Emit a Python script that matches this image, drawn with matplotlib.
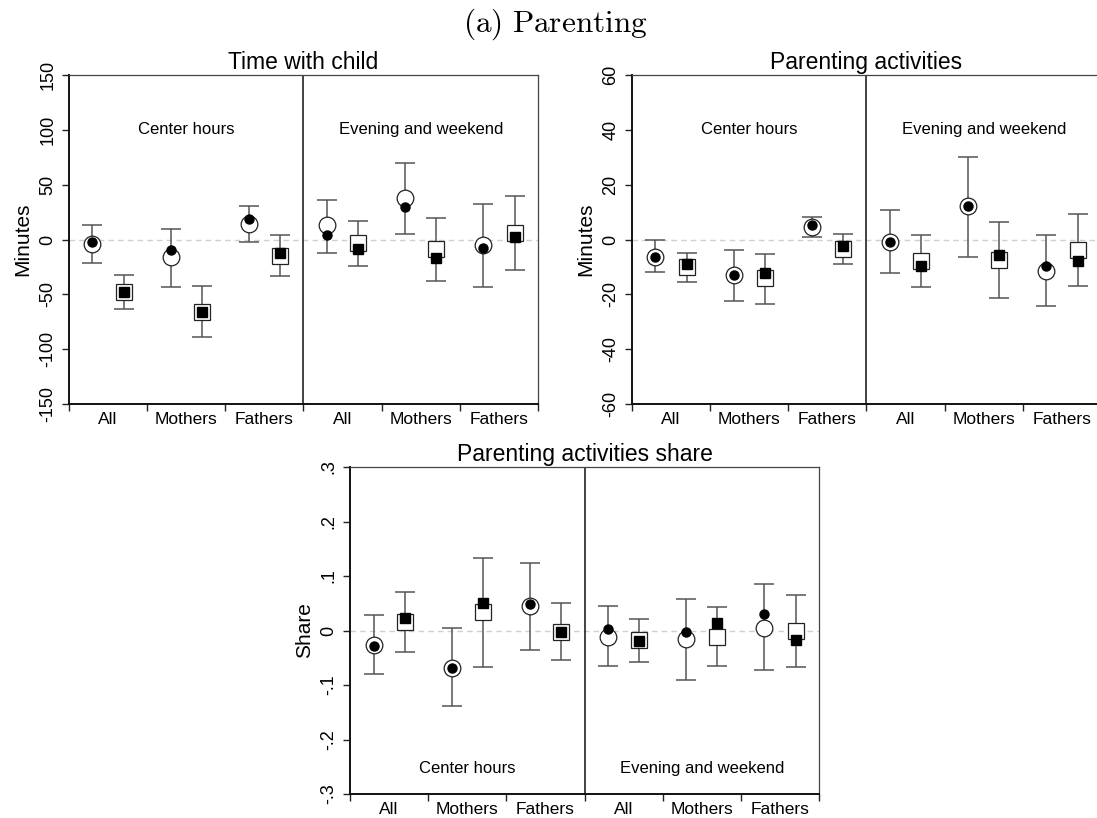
import matplotlib
matplotlib.use("Agg")

import matplotlib.pyplot as plt
import numpy as np

plt.rcParams['font.family'] = ['Liberation Sans', 'DejaVu Sans']
plt.rcParams['mathtext.fontset'] = 'cm'

groups = ["All", "Mothers", "Fathers", "All", "Mothers", "Fathers"]
sections = ["Center hours", "Evening and weekend"]

# Time with child (minutes)
time_circ_open = [-4, -16, 14, 13, 38, -5]
time_circ_fill = [-2, -10, 19, 4, 30, -8]
time_circ_lo = [-21, -43, -2, -12, 5, -43]
time_circ_hi = [13, 10, 31, 36, 70, 32]
time_sq_open = [-48, -66, -15, -3, -9, 6]
time_sq_fill = [-48, -66, -12, -9, -17, 2]
time_sq_lo = [-63, -89, -33, -24, -38, -28]
time_sq_hi = [-32, -42, 4, 17, 20, 40]

# Parenting activities (minutes)
par_circ_open = [-6.3, -12.9, 4.6, -0.8, 12.1, -11.4]
par_circ_fill = [-6.3, -12.9, 5.4, -0.8, 12.3, -9.5]
par_circ_lo = [-12, -22.3, 0.8, -12.3, -6.5, -24.4]
par_circ_hi = [-0.3, -3.8, 8.3, 10.8, 30, 1.6]
par_sq_open = [-10, -14.2, -3.5, -7.7, -7.5, -3.8]
par_sq_fill = [-8.9, -12.1, -2.5, -9.8, -5.7, -7.8]
par_sq_lo = [-15.6, -23.4, -8.9, -17.2, -21.5, -16.8]
par_sq_hi = [-4.9, -5.4, 2.1, 1.6, 6.5, 9.3]

# Parenting activities share
share_circ_open = [-0.027, -0.068, 0.045, -0.011, -0.016, 0.005]
share_circ_fill = [-0.029, -0.068, 0.048, 0.002, -0.002, 0.031]
share_circ_lo = [-0.079, -0.139, -0.035, -0.066, -0.090, -0.073]
share_circ_hi = [0.028, 0.004, 0.123, 0.045, 0.057, 0.085]
share_sq_open = [0.016, 0.034, -0.002, -0.018, -0.011, -0.001]
share_sq_fill = [0.023, 0.051, -0.002, -0.020, 0.014, -0.017]
share_sq_lo = [-0.040, -0.067, -0.055, -0.058, -0.066, -0.067]
share_sq_hi = [0.070, 0.133, 0.051, 0.022, 0.043, 0.065]


def series(ax, x, est, fill, lo, hi, marker, ms_open, ms_fill):
    est = np.array(est)
    err = [est - np.array(lo), np.array(hi) - est]
    ax.errorbar(x, est, yerr=err, fmt='none', ecolor='#555555',
                elinewidth=1.1, capsize=7, capthick=1.1, zorder=2)
    ax.plot(x, est, linestyle='none', marker=marker, markersize=ms_open,
            markerfacecolor='white', markeredgecolor='#222222',
            markeredgewidth=0.9, zorder=3)
    ax.plot(x, fill, linestyle='none', marker=marker, markersize=ms_fill,
            color='black', zorder=4)


def panel(ax, title, ylabel, lim, ticks, ticklabels, sect_y, circ, sq):
    idx = np.arange(6)
    ax.set_xlim(0, 6)
    ax.set_ylim(-lim, lim)
    ax.axhline(0, color='#cfcfcf', lw=1, linestyle=(0, (4, 3)), zorder=1)
    ax.axvline(3, color='#222222', lw=1.2, zorder=1)

    series(ax, idx + 0.3, *circ, 'o', 12, 6.5)
    series(ax, idx + 0.7, *sq, 's', 11.3, 6.8)

    ax.text(1.5, sect_y, sections[0], ha='center', va='center', fontsize=12)
    ax.text(4.5, sect_y, sections[1], ha='center', va='center', fontsize=12)

    ax.set_xticks(idx + 0.5)
    ax.set_xticklabels(groups, fontsize=12.5)
    ax.set_xticks(np.arange(7), minor=True)
    ax.tick_params(axis='x', which='major', length=0, pad=6)
    ax.tick_params(axis='x', which='minor', length=5, width=1, color='#222222')

    ax.set_yticks(ticks)
    ax.set_yticklabels(ticklabels, fontsize=13, rotation=90, va='center')
    ax.tick_params(axis='y', length=5, width=1, color='#222222', pad=4)
    ax.set_ylabel(ylabel, fontsize=15, labelpad=5)
    ax.set_title(title, fontsize=16.5, pad=4)

    for s in ['left', 'bottom']:
        ax.spines[s].set_linewidth(1.4)
        ax.spines[s].set_color('#111111')
    for s in ['top', 'right']:
        ax.spines[s].set_linewidth(0.9)
        ax.spines[s].set_color('#444444')


fig = plt.figure(figsize=(10.97, 8.18), dpi=100)

ax1 = fig.add_axes([0.0629, 0.5061, 0.4275, 0.4022])
ax2 = fig.add_axes([0.5761, 0.5061, 0.4275, 0.4022])
ax3 = fig.add_axes([0.3191, 0.0293, 0.4275, 0.3998])

panel(ax1, "Time with child", "Minutes", 150,
      [-150, -100, -50, 0, 50, 100, 150],
      ["-150", "-100", "-50", "0", "50", "100", "150"], 100,
      (time_circ_open, time_circ_fill, time_circ_lo, time_circ_hi),
      (time_sq_open, time_sq_fill, time_sq_lo, time_sq_hi))

panel(ax2, "Parenting activities", "Minutes", 60,
      [-60, -40, -20, 0, 20, 40, 60],
      ["-60", "-40", "-20", "0", "20", "40", "60"], 40,
      (par_circ_open, par_circ_fill, par_circ_lo, par_circ_hi),
      (par_sq_open, par_sq_fill, par_sq_lo, par_sq_hi))

panel(ax3, "Parenting activities share", "Share", 0.3,
      [-0.3, -0.2, -0.1, 0, 0.1, 0.2, 0.3],
      ["-.3", "-.2", "-.1", "0", ".1", ".2", ".3"], -0.253,
      (share_circ_open, share_circ_fill, share_circ_lo, share_circ_hi),
      (share_sq_open, share_sq_fill, share_sq_lo, share_sq_hi))

fig.text(0.506, 1 - 24 / 818, r'$\mathrm{(a)\ Parenting}$', ha='center',
         va='center', fontsize=22.5)

plt.savefig("out.png", dpi=100)
